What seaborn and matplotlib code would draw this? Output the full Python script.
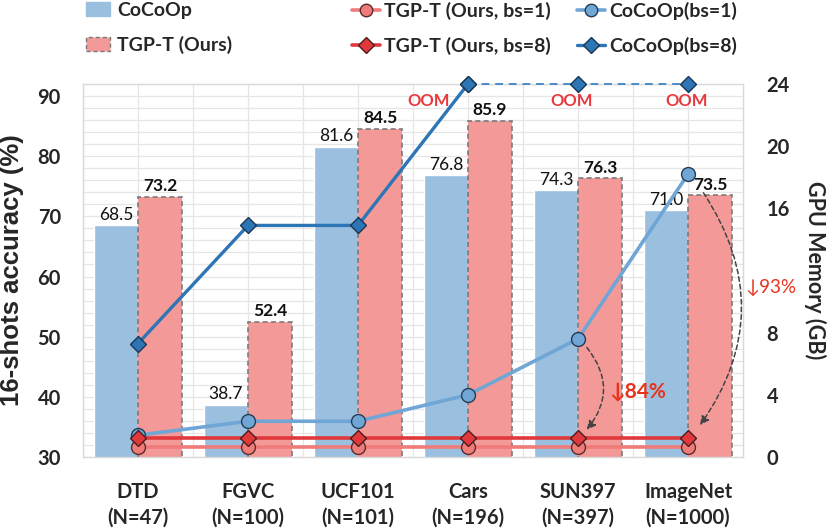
import matplotlib
matplotlib.use("Agg")
import matplotlib.pyplot as plt
import seaborn as sns
import pandas as pd
import numpy as np
from matplotlib.patches import Patch
from matplotlib.lines import Line2D

# ---------------- data ----------------
datasets = ["DTD", "FGVC", "UCF101", "Cars", "SUN397", "ImageNet"]
class_counts = ["N=47", "N=100", "N=101", "N=196", "N=397", "N=1000"]
acc_cocoop = [68.5, 38.7, 81.6, 76.8, 74.3, 71.0]
acc_tgpt = [73.2, 52.4, 84.5, 85.9, 76.3, 73.5]
mem_cocoop_bs1 = [1.4, 2.3, 2.3, 4.0, 7.6, 18.2]
mem_cocoop_bs8 = [7.3, 14.9, 14.9, 24.0, 24.0, 24.0]   # last three: OOM (drawn at cap)
mem_tgpt_bs1 = [0.66, 0.66, 0.66, 0.66, 0.66, 0.66]
mem_tgpt_bs8 = [1.2, 1.2, 1.2, 1.2, 1.2, 1.2]
oom_index = [3, 4, 5]
reductions = ["84%", "93%"]
mem_ticks = [0, 4, 8, 16, 20, 24]

sns.set_theme(style="white")
FONT = ["Lato", "DejaVu Sans"]
plt.rcParams["font.family"] = FONT

BLUE_BAR = "#9BBFDF"
RED_BAR = "#F39A98"
BLUE1 = "#6FA6D6"
BLUE8 = "#2E75B6"
RED1 = "#F07C7A"
RED8 = "#E0383B"
TXT_RED = "#E8383D"
GRID = "#E6E6E6"

df = pd.DataFrame({
    "dataset": datasets * 2,
    "acc": acc_cocoop + acc_tgpt,
    "method": ["CoCoOp"] * len(datasets) + ["TGP-T (Ours)"] * len(datasets),
})

fig = plt.figure(figsize=(8.3, 5.29), dpi=100)
ax = fig.add_axes([83 / 830, 1 - 457 / 529, 660 / 830, 373 / 529])

sns.barplot(data=df, x="dataset", y="acc", hue="method",
            palette=[BLUE_BAR, RED_BAR], saturation=1, width=0.8,
            ax=ax, legend=False, zorder=2)
for p in ax.containers[1]:
    p.set_edgecolor("#7A7A7A")
    p.set_linestyle((0, (3, 2)))
    p.set_linewidth(1.2)

ax.set_xlim(-0.5, 5.5)
ax.set_ylim(30, 92)
ax.set_yticks(np.arange(30, 91, 10))
ax.set_yticks(np.arange(30, 93, 2), minor=True)
ax.set_xticks(np.arange(-0.5, 5.6, 0.5), minor=True)
ax.grid(True, which="both", color=GRID, linewidth=0.9, zorder=0)
ax.set_axisbelow(True)
ax.set_xticks(range(len(datasets)))
ax.set_xticklabels([f"{d}\n({n})" for d, n in zip(datasets, class_counts)],
                   fontsize=14.5, fontweight="bold", linespacing=1.35)
ax.tick_params(axis="x", which="both", length=0, pad=18)
ax.tick_params(axis="y", which="both", length=0, pad=16, labelsize=14.5)
for lab in ax.get_yticklabels():
    lab.set_fontweight("bold")
ax.set_xlabel("")
ax.set_ylabel("16-shots accuracy (%)", fontsize=18.5, fontweight="bold",
              family=["Liberation Sans", "DejaVu Sans"], labelpad=10)
for s in ax.spines.values():
    s.set_color("#D9D9D9")
    s.set_linewidth(1.0)

ax.bar_label(ax.containers[0], labels=[f"{v:.1f}" for v in acc_cocoop],
             padding=2, fontsize=12.5, color="#111111")
ax.bar_label(ax.containers[1], labels=[f"{v:.1f}" for v in acc_tgpt],
             padding=2, fontsize=12.5, fontweight="bold", color="#111111")

# ---------------- memory lines ----------------
ax2 = ax.twinx()
ax2.set_ylim(0, 24)
ax2.set_yticks(mem_ticks)
ax2.tick_params(axis="y", length=0, pad=17, labelsize=14.5)
for lab in ax2.get_yticklabels():
    lab.set_fontweight("bold")
ax2.set_ylabel("GPU Memory (GB)", fontsize=15.5, fontweight="bold",
               rotation=270, labelpad=26)
for s in ax2.spines.values():
    s.set_visible(False)
ax2.grid(False)

x = np.arange(len(datasets))
sns.lineplot(x=x, y=mem_tgpt_bs1, ax=ax2, color=RED1, linewidth=2.6,
             marker="o", markersize=10, markerfacecolor=RED1,
             markeredgecolor="#5A2C2C", markeredgewidth=1.0, zorder=5)
sns.lineplot(x=x, y=mem_tgpt_bs8, ax=ax2, color=RED8, linewidth=2.6,
             marker="D", markersize=8.5, markerfacecolor=RED8,
             markeredgecolor="#4A1F1F", markeredgewidth=1.0, zorder=6)
sns.lineplot(x=x, y=mem_cocoop_bs1, ax=ax2, color=BLUE1, linewidth=2.6,
             marker="o", markersize=10, markerfacecolor=BLUE1,
             markeredgecolor="#253C55", markeredgewidth=1.0, zorder=5)
n_ok = oom_index[0] + 1
sns.lineplot(x=x[:n_ok], y=mem_cocoop_bs8[:n_ok], ax=ax2, color=BLUE8,
             linewidth=2.4, marker="D", markersize=8.5, markerfacecolor=BLUE8,
             markeredgecolor="#1C3550", markeredgewidth=1.0, zorder=5,
             clip_on=False)
sns.lineplot(x=x[oom_index[0]:], y=mem_cocoop_bs8[oom_index[0]:], ax=ax2,
             color="#4A8BC8", linewidth=1.4, linestyle=(0, (4, 3)),
             marker="D", markersize=8.5, markerfacecolor=BLUE8,
             markeredgecolor="#1C3550", markeredgewidth=1.0, zorder=5,
             clip_on=False)

# OOM labels
oom_x = [2.64, 3.94, 4.99]
for ox in oom_x:
    ax2.text(ox, 22.9, "OOM", color=TXT_RED, fontsize=12, fontweight="bold",
             ha="center", va="center", zorder=7)

# reduction arrows
arr = dict(arrowstyle="-|>", linestyle=(0, (3, 2)), color="#444444",
           linewidth=1.1, mutation_scale=13, shrinkA=0, shrinkB=0)
ax2.annotate("", xy=(4.08, 1.75), xytext=(4.08, 7.05),
             arrowprops=dict(arr, connectionstyle="arc3,rad=-0.4"), zorder=8)
ax2.annotate("", xy=(5.11, 2.05), xytext=(5.14, 17.0),
             arrowprops=dict(arr, connectionstyle="arc3,rad=-0.34"), zorder=8)
ax2.text(4.54, 4.2, "\u2193" + reductions[0], color="#E8321E", fontsize=15,
         fontweight="bold", ha="center", va="center", zorder=8)
ax2.text(5.75, 10.9, "\u2193" + reductions[1], color="#E8321E", fontsize=13.5,
         ha="center", va="center", zorder=8)

# ---------------- legends ----------------
bar_handles = [Patch(facecolor=BLUE_BAR, edgecolor=BLUE_BAR, label="CoCoOp"),
               Patch(facecolor=RED_BAR, edgecolor="#7A7A7A",
                     linestyle=(0, (3, 2)), label="TGP-T (Ours)")]
leg1 = fig.legend(handles=bar_handles, loc="upper left",
                  bbox_to_anchor=(86 / 830, 1 - 2 / 529), frameon=False,
                  borderpad=0, borderaxespad=0, handlelength=1.25,
                  handleheight=0.7, handletextpad=0.35, labelspacing=0.85,
                  prop={"family": FONT, "weight": "bold", "size": 14})

line_handles = [
    Line2D([], [], color=RED1, lw=2.6, marker="o", markersize=9,
           markerfacecolor=RED1, markeredgecolor="#5A2C2C",
           label="TGP-T (Ours, bs=1)"),
    Line2D([], [], color=RED8, lw=2.6, marker="D", markersize=8,
           markerfacecolor=RED8, markeredgecolor="#4A1F1F",
           label="TGP-T (Ours, bs=8)"),
    Line2D([], [], color=BLUE1, lw=2.6, marker="o", markersize=9,
           markerfacecolor=BLUE1, markeredgecolor="#253C55",
           label="CoCoOp(bs=1)"),
    Line2D([], [], color=BLUE8, lw=2.4, marker="D", markersize=8,
           markerfacecolor=BLUE8, markeredgecolor="#1C3550",
           label="CoCoOp(bs=8)"),
]
leg2 = fig.legend(handles=line_handles, loc="upper left", ncol=2,
                  bbox_to_anchor=(352 / 830, 1 - 2 / 529), frameon=False,
                  borderpad=0, borderaxespad=0, handlelength=1.45,
                  handletextpad=0.2, labelspacing=0.85, columnspacing=1.35,
                  prop={"family": FONT, "weight": "bold", "size": 14})

fig.savefig("out.png", dpi=100)
